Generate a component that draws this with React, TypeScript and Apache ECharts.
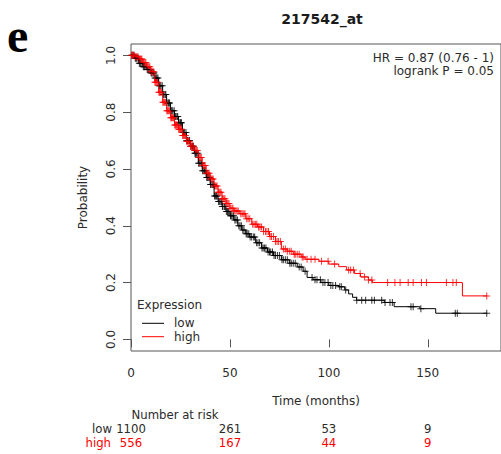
import React, { useEffect, useRef } from 'react';
import * as echarts from 'echarts';

// ---- Data ----
const lowTime = [0, 2, 4, 6, 8, 10, 12, 14, 16, 18, 20, 22, 24, 26, 28, 30, 32, 34, 36, 38, 40, 42, 44, 46, 48, 50, 52, 54, 56, 58, 60, 63, 66, 69, 72, 76, 80, 84, 87, 89, 92, 96, 100, 105, 108, 110, 112, 114, 128, 133, 146, 154, 180];
const lowSurv = [1.0, 0.99, 0.972, 0.96, 0.95, 0.938, 0.92, 0.893, 0.862, 0.832, 0.805, 0.785, 0.763, 0.728, 0.7, 0.68, 0.655, 0.62, 0.594, 0.57, 0.545, 0.505, 0.485, 0.468, 0.45, 0.435, 0.42, 0.4, 0.385, 0.372, 0.36, 0.34, 0.322, 0.308, 0.295, 0.28, 0.268, 0.255, 0.24, 0.218, 0.21, 0.2, 0.19, 0.185, 0.174, 0.16, 0.148, 0.138, 0.13, 0.115, 0.108, 0.092, 0.092];

const highTime = [0, 2, 4, 6, 8, 10, 12, 14, 16, 18, 20, 22, 24, 26, 28, 30, 32, 34, 36, 38, 40, 42, 44, 46, 48, 50, 52, 55, 58, 61, 64, 67, 70, 73, 76, 79, 82, 86, 88, 95, 100, 105, 109, 113, 116, 120, 122, 167.5, 180];
const highSurv = [1.0, 0.995, 0.987, 0.975, 0.96, 0.942, 0.905, 0.87, 0.835, 0.805, 0.78, 0.755, 0.74, 0.718, 0.698, 0.68, 0.665, 0.64, 0.612, 0.585, 0.565, 0.54, 0.518, 0.495, 0.478, 0.462, 0.452, 0.442, 0.425, 0.405, 0.396, 0.38, 0.362, 0.345, 0.318, 0.31, 0.3, 0.29, 0.282, 0.275, 0.265, 0.256, 0.244, 0.232, 0.22, 0.209, 0.2, 0.153, 0.153];

const lowCensor = [0.5, 1, 1.6, 2.2, 2.6, 3, 3.7, 4.2, 4.6, 5, 5.6, 6.2, 6.6, 7, 7.6, 8.2, 8.6, 9, 9.6, 10.2, 10.6, 11.2, 11.6, 12.2, 12.7, 13.1, 13.6, 14.2, 14.6, 15.1, 15.8, 16.2, 16.6, 17.2, 17.6, 18.2, 18.8, 19.1, 19.5, 20.2, 20.6, 21.1, 21.8, 22.2, 22.6, 23.2, 23.6, 24.2, 24.8, 25.1, 25.5, 26.3, 26.6, 27.1, 27.8, 28.2, 28.5, 29.3, 29.6, 30.2, 30.8, 31.1, 31.5, 32.3, 32.6, 33.1, 33.8, 34.2, 34.5, 35.3, 35.6, 36.2, 36.8, 37.1, 37.5, 38.3, 38.6, 39.1, 39.8, 40.2, 40.5, 41.3, 41.6, 42.2, 42.8, 43.1, 43.5, 44.3, 44.6, 45.1, 45.8, 46.2, 46.5, 47.3, 47.6, 48.2, 48.8, 49.1, 49.5, 50.3, 50.6, 51.1, 51.8, 52.5, 53.1, 53.8, 54.5, 55.1, 55.8, 56.5, 57.1, 58.2, 58.7, 59.5, 60.2, 61, 62, 62.5, 63.5, 64.2, 65, 66.2, 66.8, 67.5, 68.2, 69.3, 70, 70.6, 71.5, 72.3, 73, 74, 75, 76.3, 77, 78, 79, 80.3, 81, 82, 83, 85, 86, 88, 91.5, 93, 94, 95.7, 97, 98, 99.6, 101, 102, 103.4, 105.5, 106.3, 108.5, 114.1, 116.6, 118.6, 121.7, 123, 126.7, 128.4, 130.9, 132.1, 141.5, 142.6, 146.5, 163.9, 164.9, 179.8];
const highCensor = [0.4, 0.9, 1.4, 2.1, 2.5, 3, 3.5, 4.1, 4.5, 5, 5.5, 6.1, 6.5, 7, 7.5, 8.1, 8.5, 9, 9.5, 10.1, 10.5, 11, 11.5, 12.1, 12.5, 13, 13.5, 14.1, 14.5, 15, 15.5, 16.1, 16.5, 17, 17.5, 18.1, 18.5, 19, 19.5, 20.1, 20.5, 21, 21.5, 22.1, 22.5, 23, 23.5, 24.1, 24.5, 25, 25.5, 26.1, 26.5, 27, 27.5, 28.1, 28.5, 29, 29.5, 30.1, 30.5, 31, 31.5, 32.1, 32.5, 33, 33.5, 34.1, 34.5, 35, 35.5, 36.1, 36.5, 37, 37.5, 38.1, 38.5, 39, 39.5, 40.1, 40.5, 41, 41.5, 42.1, 42.5, 43, 43.5, 44.1, 44.5, 45, 45.5, 46.1, 46.5, 47, 47.5, 48.1, 48.5, 49, 49.5, 50.1, 51, 51.5, 52.2, 53, 53.6, 54.2, 55.5, 56.2, 57, 57.6, 58.5, 59.2, 60, 61.5, 62.2, 63, 63.6, 64.5, 65.2, 66, 67, 68, 68.7, 69.5, 70.3, 71, 72, 73, 73.8, 74.5, 75.5, 77, 78, 79, 80.2, 81, 82.5, 83, 84, 85, 86.5, 87, 89, 91, 93, 96.3, 99.6, 102.9, 110, 111, 112.5, 115.8, 118, 120, 121.7, 129.7, 133.4, 136, 140.1, 142.6, 146.8, 149.3, 159.4, 162.7, 164.4, 179.8];

const xTicks = [0, 50, 100, 150];
const yTicks = [0, 0.2, 0.4, 0.6, 0.8, 1.0];
const riskTimes = [0, 50, 100, 150];
const riskLow = [1100, 261, 53, 9];
const riskHigh = [556, 167, 44, 9];

const FONT = '"DejaVu Sans", sans-serif';
const RED = '#ff0000';
const TXT = '#2b2b2b';
const AX = '#555555';
const PLUS = 'path://M3,0H4V3H7V4H4V7H3V4H0V3H3Z';

function survAt(times: number[], surv: number[], t: number) {
  let v = surv[0];
  for (let i = 0; i < times.length; i++) {
    if (times[i] <= t) v = surv[i];
  }
  return v;
}

function txt(text: string, x: number, y: number, opts: any = {}) {
  const align = opts.align || 'left';
  return {
    type: 'text',
    x,
    y,
    silent: true,
    style: {
      text,
      fontFamily: opts.family || FONT,
      fontSize: opts.size || 12,
      fontWeight: opts.weight || 'normal',
      fill: opts.color || TXT,
      align,
      textAlign: align,
      verticalAlign: 'middle',
      textVerticalAlign: 'middle',
    },
  };
}

export default function App() {
  const ref = useRef<HTMLDivElement>(null);
  useEffect(() => {
    const chart = echarts.init(ref.current!, null, { renderer: 'svg' });
    const lowLine = lowTime.map((t, i) => [t, lowSurv[i]]);
    const highLine = highTime.map((t, i) => [t, highSurv[i]]);
    const lowMarks = lowCensor.map((t) => [t, survAt(lowTime, lowSurv, t)]);
    const highMarks = highCensor.map((t) => [t, survAt(highTime, highSurv, t)]);

    chart.setOption({
      animation: false,
      backgroundColor: '#ffffff',
      title: {
        text: '217542_at',
        left: 317,
        top: 7,
        textAlign: 'center',
        textStyle: { fontFamily: FONT, fontSize: 14, fontWeight: 'bold', color: '#1a1a1a' },
      },
      grid: {
        left: 131,
        top: 44,
        width: 372,
        height: 307,
        show: true,
        borderColor: AX,
        borderWidth: 1,
        backgroundColor: 'transparent',
      },
      xAxis: {
        type: 'value',
        min: 0,
        max: 187,
        name: 'Time (months)',
        nameLocation: 'middle',
        nameGap: 44,
        nameTextStyle: { fontFamily: FONT, fontSize: 12, color: TXT },
        axisLine: { show: false },
        axisTick: { show: true, length: 8, lineStyle: { color: AX }, customValues: xTicks },
        axisLabel: { fontFamily: FONT, fontSize: 12, color: TXT, margin: 16, customValues: xTicks },
        splitLine: { show: false },
      },
      yAxis: {
        type: 'value',
        min: -0.041,
        max: 1.04,
        name: 'Probability',
        nameLocation: 'middle',
        nameGap: 42,
        nameTextStyle: { fontFamily: FONT, fontSize: 12, color: TXT },
        axisLine: { show: false },
        axisTick: { show: true, length: 8, lineStyle: { color: AX }, customValues: yTicks },
        axisLabel: {
          fontFamily: FONT,
          fontSize: 12,
          color: TXT,
          rotate: 90,
          margin: 14,
          customValues: yTicks,
          formatter: (v: number) => v.toFixed(1),
        },
        splitLine: { show: false },
      },
      series: [
        {
          name: 'low',
          type: 'line',
          step: 'end',
          data: lowLine,
          showSymbol: false,
          lineStyle: { color: '#000000', width: 1 },
          itemStyle: { color: '#000000' },
          silent: true,
        },
        {
          name: 'low censored',
          type: 'scatter',
          data: lowMarks,
          symbol: PLUS,
          symbolSize: 7,
          itemStyle: { color: '#000000' },
          silent: true,
        },
        {
          name: 'high',
          type: 'line',
          step: 'end',
          data: highLine,
          showSymbol: false,
          lineStyle: { color: RED, width: 1 },
          itemStyle: { color: RED },
          silent: true,
        },
        {
          name: 'high censored',
          type: 'scatter',
          data: highMarks,
          symbol: PLUS,
          symbolSize: 7,
          itemStyle: { color: RED },
          silent: true,
        },
      ],
    });

    const px = (t: number) => chart.convertToPixel({ xAxisIndex: 0 }, t) as number;

    const graphics: any[] = [
      txt('e', 7, 35, { family: '"Liberation Serif", serif', size: 48, weight: 'bold', color: '#000' }),
      txt('HR = 0.87 (0.76 - 1)', 494, 58.3, { align: 'right' }),
      txt('logrank P = 0.05', 494, 71, { align: 'right' }),
      txt('Expression', 137, 304.7),
      { type: 'line', silent: true, shape: { x1: 142, y1: 323.3, x2: 164, y2: 323.3 }, style: { stroke: '#000', lineWidth: 1 } },
      txt('low', 174, 323.3),
      { type: 'line', silent: true, shape: { x1: 142, y1: 336.7, x2: 164, y2: 336.7 }, style: { stroke: RED, lineWidth: 1 } },
      txt('high', 174, 336.7),
      txt('Number at risk', 175, 415, { align: 'center', size: 11.7 }),
      txt('low', 112, 429.3, { align: 'right', size: 11.7 }),
      txt('high', 111, 443.3, { align: 'right', color: RED, size: 11.7 }),
    ];
    riskTimes.forEach((t, i) => {
      graphics.push(txt(String(riskLow[i]), px(t), 429.3, { align: 'center', size: 11.7 }));
      graphics.push(txt(String(riskHigh[i]), px(t), 443.3, { align: 'center', color: RED, size: 11.7 }));
    });
    chart.setOption({ graphic: graphics });

    return () => chart.dispose();
  }, []);
  return (
    <div
      ref={ref}
      style={{ position: 'fixed', left: 0, top: 0, width: 501, height: 454, background: '#fff' }}
    />
  );
}
